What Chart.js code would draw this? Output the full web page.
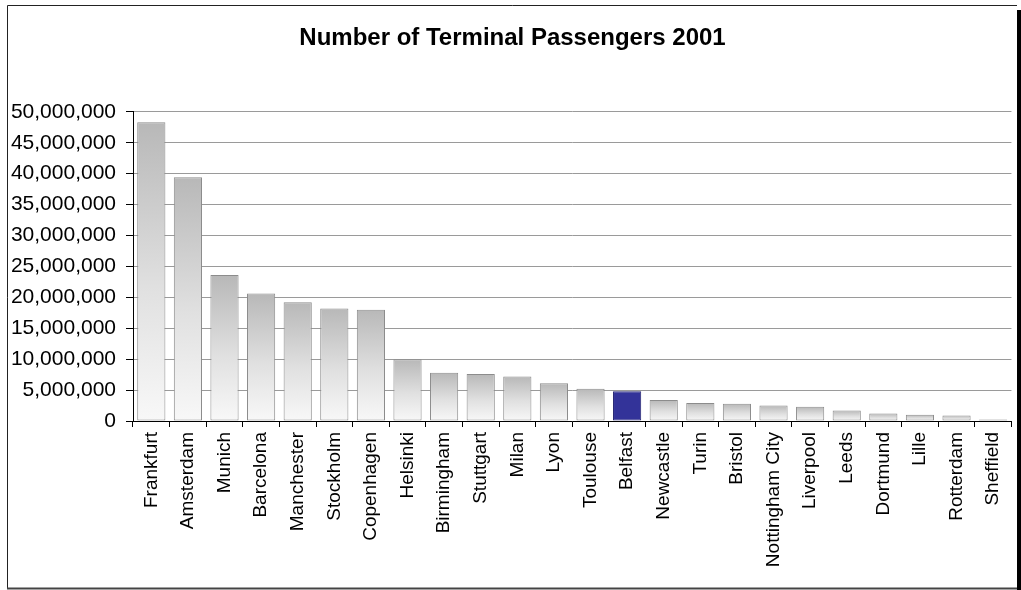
<!DOCTYPE html>
<html>
<head>
<meta charset="utf-8">
<title>Number of Terminal Passengers 2001</title>
<script src="https://cdn.jsdelivr.net/npm/chart.js@4/dist/chart.umd.min.js"></script>
<style>
  html, body { margin: 0; padding: 0; background: #fff; }
  #wrap { width: 1021px; height: 590px; }
</style>
</head>
<body>
<div id="wrap"><canvas id="passengersChart" width="1021" height="590"></canvas></div>
<script>
// Aeropuertos y pasajeros de terminal (2001)
const airports = ['Frankfurt', 'Amsterdam', 'Munich', 'Barcelona', 'Manchester', 'Stockholm',
    'Copenhagen', 'Helsinki', 'Birmingham', 'Stuttgart', 'Milan', 'Lyon', 'Toulouse',
    'Belfast', 'Newcastle', 'Turin', 'Bristol', 'Nottingham City', 'Liverpool', 'Leeds',
    'Dortmund', 'Lille', 'Rotterdam', 'Sheffield'];
const passengers = [48300000, 39400000, 23600000, 20600000, 19200000, 18200000,
    18000000, 10000000, 7800000, 7600000, 7200000, 6100000, 5200000,
    4800000, 3400000, 2900000, 2800000, 2500000, 2300000, 1700000,
    1200000, 1000000, 900000, 250000];
const highlighted = 'Belfast';
const yTicks = [0, 5000000, 10000000, 15000000, 20000000, 25000000,
    30000000, 35000000, 40000000, 45000000, 50000000];

const FONT = "'Liberation Sans', Arial, sans-serif";

// Degradado gris -> blanco para cada barra
function barFill(context) {
    const chart = context.chart;
    const yScale = chart.scales.y;
    if (airports[context.dataIndex] === highlighted) return '#333399';
    if (!yScale || context.parsed === undefined) return '#dddddd';
    const top = yScale.getPixelForValue(context.parsed.y);
    const bottom = yScale.getPixelForValue(0);
    if (!isFinite(top) || !isFinite(bottom) || bottom - top < 1) return '#dddddd';
    const g = chart.ctx.createLinearGradient(0, top, 0, bottom);
    g.addColorStop(0, '#b8b8b8');
    g.addColorStop(0.55, '#e0e0e0');
    g.addColorStop(1, '#f8f8f8');
    return g;
}

// Marco del gráfico con sombra a la derecha
const framePlugin = {
    id: 'frame',
    beforeDraw(chart) {
        const c = chart.ctx;
        c.save();
        c.fillStyle = '#ffffff';
        c.fillRect(0, 0, chart.width, chart.height);
        c.strokeStyle = '#222222';
        c.lineWidth = 1;
        c.beginPath();
        c.moveTo(7.5, 589);
        c.lineTo(7.5, 5.5);
        c.lineTo(1017, 5.5);
        c.stroke();
        c.strokeStyle = '#444444';
        c.lineWidth = 2;
        c.beginPath();
        c.moveTo(7, 588.5);
        c.lineTo(1018, 588.5);
        c.stroke();
        c.fillStyle = '#000000';
        c.fillRect(1017, 10, 4, 580);
        c.restore();
    }
};

const ctx = document.getElementById('passengersChart').getContext('2d');
const passengersChart = new Chart(ctx, {
    type: 'bar',
    data: {
        labels: airports,
        datasets: [{
            label: 'Terminal passengers',
            data: passengers,
            backgroundColor: barFill,
            borderColor: (c) => airports[c.dataIndex] === highlighted ? '#262673' : '#8c8c8c',
            borderWidth: 1,
            borderSkipped: false,
            barPercentage: 0.77,
            categoryPercentage: 1.0
        }]
    },
    options: {
        responsive: false,
        animation: false,
        devicePixelRatio: 1,
        layout: { padding: { left: 7, right: 3, top: 0, bottom: 0 } },
        plugins: {
            legend: { display: false },
            tooltip: { enabled: false },
            title: {
                display: true,
                text: 'Number of Terminal Passengers 2001',
                color: '#000',
                font: { family: FONT, size: 24, weight: 'bold' },
                padding: { top: 24, bottom: 59 }
            }
        },
        scales: {
            x: {
                offset: true,
                grid: {
                    offset: true,
                    drawOnChartArea: false,
                    color: '#000',
                    tickLength: 6
                },
                border: { color: '#000', width: 1 },
                ticks: {
                    autoSkip: false,
                    minRotation: 90,
                    maxRotation: 90,
                    padding: 5,
                    color: '#000',
                    font: { family: FONT, size: 19 }
                },
                afterFit(scale) { scale.height = 169; }
            },
            y: {
                min: 0,
                max: 50000000,
                afterBuildTicks(scale) { scale.ticks = yTicks.map(v => ({ value: v })); },
                grid: {
                    color: '#9a9a9a',
                    tickColor: '#000',
                    tickLength: 7
                },
                border: { color: '#000', width: 1 },
                ticks: {
                    padding: 10,
                    color: '#000',
                    font: { family: FONT, size: 21 },
                    callback: (v) => Number(v).toLocaleString('en-US')
                },
                afterFit(scale) { scale.width = 126; }
            }
        }
    },
    plugins: [framePlugin]
});
</script>
</body>
</html>
